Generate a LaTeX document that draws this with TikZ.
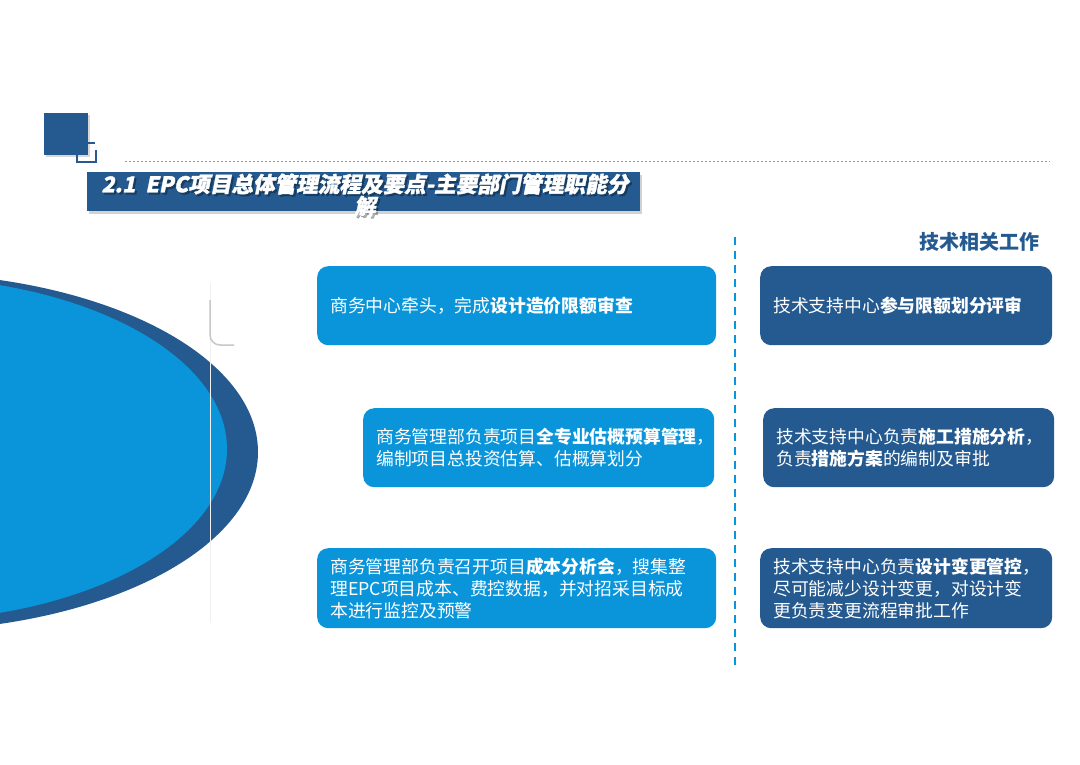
\documentclass[tikz,border=0pt]{standalone}
\usepackage{fontspec}
\setmainfont{Noto Sans CJK SC}
\newfontfamily\titlefont[FakeSlant=0.2, FakeBold=1.5]{Noto Sans CJK SC}
\usetikzlibrary{shadows}
\definecolor{skyblue}{HTML}{0A95DA}
\definecolor{navy}{HTML}{245A8F}
\newcommand{\titletext}{2.1\ \ EPC项目总体管理流程及要点-主要部门管理职能分\\解}

\begin{document}
\begin{tikzpicture}[x=1pt, y=-1pt, every node/.style={font=\fontsize{17.8}{22}\selectfont, text=white},
    card/.style={rectangle, rounded corners=11pt, minimum height=79pt, inner xsep=13pt, inner ysep=0pt, align=left, anchor=north west},
    bizcard/.style={card, fill=skyblue},
    techcard/.style={card, fill=navy},
    titlestyle/.style={font=\titlefont\bfseries\fontsize{21.6}{22}\selectfont, align=center}]
    \useasboundingbox[fill=white] (0,0) rectangle (1080,764);

    \begin{scope}
        \clip (0,0) rectangle (1080,764);
        \fill[navy] (-100,452) ellipse [x radius=358, y radius=179];
        \fill[skyblue] (-100,449) ellipse [x radius=327, y radius=172];
    \end{scope}
    \draw[black!6, line width=1pt] (210,283) -- (210,623);
    \draw[black!22, line width=1.5pt] (210,300) -- (210,335) arc[start angle=180, end angle=90, radius=10] -- (234,345);

    \fill[navy, drop shadow={opacity=0.3, shadow xshift=2pt, shadow yshift=-2pt}] (44,113) rectangle (88,155);
    \draw[navy, line width=2pt] (77,155) |- (96,162) -- (96,150);
    \draw[navy, line width=2pt] (87,143) -- (95,143);
    \draw[black!40, line width=1pt, dash pattern=on 2pt off 2pt] (125,161) -- (1050,161);

    \fill[navy, drop shadow={opacity=0.35, shadow xshift=2pt, shadow yshift=-3pt}] (87,172) rectangle (640,211);
    \node[titlestyle, text=black, opacity=0.3] (title-shadow) at (367,197) {\titletext};
    \node[titlestyle] (title) at (365,195) {\titletext};

    \node[text=navy, font=\bfseries\fontsize{20}{22}\selectfont, anchor=east] (techhead) at (1043,242) {技术相关工作};
    \draw[skyblue, line width=2.5pt, dash pattern=on 8pt off 6pt] (735,237) -- (735,666);

    \node[bizcard, minimum width=399pt, text width=373pt] (biz-1) at (317,266)
        {商务中心牵头，完成\textbf{设计造价限额审查}};
    \node[bizcard, minimum width=351pt, text width=325pt] (biz-2) at (363,408)
        {商务管理部负责项目\textbf{全专业估概预算管理}，\\编制项目总投资估算、估概算划分};
    \node[bizcard, minimum width=399pt, text width=373pt, minimum height=80pt] (biz-3) at (317,548)
        {商务管理部负责召开项目\textbf{成本分析会}，搜集整\\理EPC项目成本、费控数据，并对招采目标成\\本进行监控及预警};

    \node[techcard, minimum width=292pt, text width=266pt] (tech-1) at (760,266)
        {技术支持中心\textbf{参与限额划分评审}};
    \node[techcard, minimum width=291pt, text width=265pt] (tech-2) at (763,408)
        {技术支持中心负责\textbf{施工措施分析}，\\负责\textbf{措施方案}的编制及审批};
    \node[techcard, minimum width=292pt, text width=266pt, minimum height=80pt] (tech-3) at (760,548)
        {技术支持中心负责\textbf{设计变更管控}，\\尽可能减少设计变更，对设计变\\更负责变更流程审批工作};
\end{tikzpicture}
\end{document}
